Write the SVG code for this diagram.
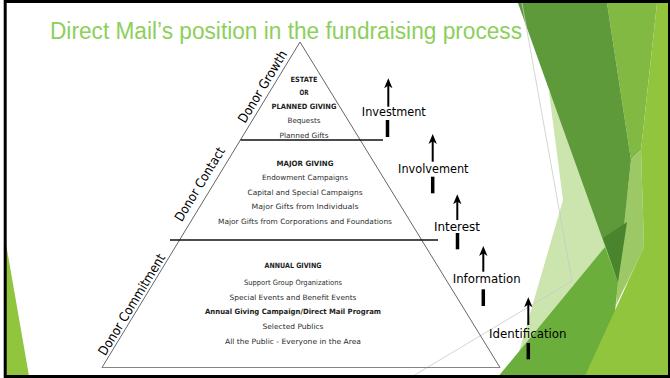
<svg xmlns="http://www.w3.org/2000/svg" width="670" height="378" viewBox="0 0 670 378">
  <defs>
    <style>
      .side { fill: none; stroke: #555; stroke-width: 0.9; }
      .divider { stroke: #111; stroke-width: 1.3; }
      .tier { font-family: "DejaVu Sans", Verdana, sans-serif; font-size: 7.3px; fill: #2e2e2e; text-anchor: middle; }
      .head { font-weight: bold; fill: #1e1e1e; }
      .stage { font-family: "DejaVu Sans", Verdana, sans-serif; font-size: 11.5px; fill: #000; text-anchor: middle; }
      .donor { font-family: "DejaVu Sans", Verdana, sans-serif; font-size: 13px; fill: #000; text-anchor: middle; }
      .shaft { stroke: #000; stroke-width: 2; marker-end: url(#ah); }
      .bar { stroke: #000; stroke-width: 3.5; }
      .thin { stroke: #c9c9c9; stroke-width: 0.8; fill: none; }
    </style>
    <marker id="ah" viewBox="0 0 10 10" refX="6" refY="5" markerWidth="10" markerHeight="10" markerUnits="userSpaceOnUse" orient="auto">
      <path d="M10,5 L0,0.8 L2.8,5 L0,9.2 Z" fill="#000"/>
    </marker>
  </defs>

  <rect x="0" y="0" width="670" height="378" fill="#fff"/>

  <!-- facet decoration, right side -->
  <g id="facets">
    <polygon points="549,92 620,160 645,260 600,320 512,376 563,200" fill="#cce4ae"/>
    <polygon points="607,3 657,3 641,150 631,160" fill="#82b943"/>
    <polygon points="631,160 641,150 644,247 616,305 618,282" fill="#9cc866"/>
    <polygon points="497,378 605,247 618,282 615,312 586,378" fill="#6cae3c"/>
    <polygon points="518,3 607,3 631,160 618,282" fill="#5e9a3a"/>
    <polygon points="603,238 627,222 618,282" fill="#4a852e"/>
    <polygon points="657,3 670,3 670,378 584,378 644,247 641,150" fill="#91c53d"/>
    <polygon points="5,238 29,376 5,376" fill="#91c53d"/>
    <line class="thin" x1="522" y1="3" x2="572" y2="281"/>
    <line class="thin" x1="572" y1="281" x2="413" y2="376"/>
  </g>

  <!-- title -->
  <text x="50" y="38.5" font-family="Liberation Sans, Arial, sans-serif" font-size="23" fill="#8ccf5b" textLength="472" lengthAdjust="spacingAndGlyphs">Direct Mail’s position in the fundraising process</text>

  <!-- pyramid outline -->
  <g id="pyramid">
    <polyline class="side" points="102,367.5 300,42 500,367.5"/>
    <line x1="102" y1="367.5" x2="500" y2="367.5" stroke="#777" stroke-width="0.9"/>
    <line class="divider" x1="240.5" y1="140" x2="383" y2="140"/>
    <line class="divider" x1="170" y1="240" x2="438" y2="240"/>
  </g>

  <g id="tier-estate">
    <text class="tier head" x="304" y="81.5" textLength="27" lengthAdjust="spacingAndGlyphs">ESTATE</text>
    <text class="tier head" x="304" y="95" textLength="9" lengthAdjust="spacingAndGlyphs">OR</text>
    <text class="tier head" x="304" y="108.5" textLength="65" lengthAdjust="spacingAndGlyphs">PLANNED GIVING</text>
    <text class="tier" x="304" y="122.5" textLength="33" lengthAdjust="spacingAndGlyphs">Bequests</text>
    <text class="tier" x="304" y="137.5" textLength="49" lengthAdjust="spacingAndGlyphs">Planned Gifts</text>
  </g>

  <g id="tier-major">
    <text class="tier head" x="305" y="166" textLength="57" lengthAdjust="spacingAndGlyphs">MAJOR GIVING</text>
    <text class="tier" x="305" y="179.5" textLength="86" lengthAdjust="spacingAndGlyphs">Endowment Campaigns</text>
    <text class="tier" x="305" y="194.5" textLength="115" lengthAdjust="spacingAndGlyphs">Capital and Special Campaigns</text>
    <text class="tier" x="305" y="209" textLength="107" lengthAdjust="spacingAndGlyphs">Major Gifts from Individuals</text>
    <text class="tier" x="305" y="223.5" textLength="174" lengthAdjust="spacingAndGlyphs">Major Gifts from Corporations and Foundations</text>
  </g>

  <g id="tier-annual">
    <text class="tier head" x="293" y="268" textLength="57" lengthAdjust="spacingAndGlyphs">ANNUAL GIVING</text>
    <text class="tier" x="293" y="284.5" textLength="98" lengthAdjust="spacingAndGlyphs">Support Group Organizations</text>
    <text class="tier" x="293" y="299.5" textLength="127" lengthAdjust="spacingAndGlyphs">Special Events and Benefit Events</text>
    <text class="tier head" x="293" y="314" textLength="176" lengthAdjust="spacingAndGlyphs">Annual Giving Campaign/Direct Mail Program</text>
    <text class="tier" x="293" y="329" textLength="61" lengthAdjust="spacingAndGlyphs">Selected Publics</text>
    <text class="tier" x="293" y="344" textLength="136" lengthAdjust="spacingAndGlyphs">All the Public - Everyone in the Area</text>
  </g>

  <!-- side labels along the left slope -->
  <g id="label-growth">
    <text class="donor" transform="translate(266.3,89) rotate(-58.7)" textLength="82" lengthAdjust="spacingAndGlyphs">Donor Growth</text>
  </g>
  <g id="label-contact">
    <text class="donor" transform="translate(203.5,186.5) rotate(-58.7)" textLength="84" lengthAdjust="spacingAndGlyphs">Donor Contact</text>
  </g>
  <g id="label-commitment">
    <text class="donor" transform="translate(135.5,307) rotate(-58.7)" textLength="116" lengthAdjust="spacingAndGlyphs">Donor Commitment</text>
  </g>

  <!-- stage arrows -->
  <g id="connectors">
    <line class="shaft" x1="388.3" y1="106.7" x2="388.3" y2="82.3"/>
    <line class="bar" x1="387.5" y1="120" x2="387.5" y2="137"/>
    <line class="shaft" x1="432.7" y1="161.7" x2="432.7" y2="138"/>
    <line class="bar" x1="432.7" y1="176.7" x2="432.7" y2="193.3"/>
    <line class="shaft" x1="457.3" y1="220" x2="457.3" y2="198.3"/>
    <line class="bar" x1="457.5" y1="233" x2="457.5" y2="249.3"/>
    <line class="shaft" x1="483.3" y1="271.7" x2="483.3" y2="250"/>
    <line class="bar" x1="483.3" y1="289.3" x2="483.3" y2="306"/>
    <line class="shaft" x1="528.3" y1="325" x2="528.3" y2="301.3"/>
    <line class="bar" x1="528.3" y1="343" x2="528.3" y2="359.3"/>
  </g>

  <g id="stage-investment">
    <text class="stage" x="393.8" y="116.3" textLength="64" lengthAdjust="spacingAndGlyphs">Investment</text>
  </g>
  <g id="stage-involvement">
    <text class="stage" x="433.3" y="173.3" textLength="70.5" lengthAdjust="spacingAndGlyphs">Involvement</text>
  </g>
  <g id="stage-interest">
    <text class="stage" x="457" y="231.3" textLength="46" lengthAdjust="spacingAndGlyphs">Interest</text>
  </g>
  <g id="stage-information">
    <text class="stage" x="486.7" y="283" textLength="68" lengthAdjust="spacingAndGlyphs">Information</text>
  </g>
  <g id="stage-identification">
    <text class="stage" x="527.8" y="338" textLength="77.5" lengthAdjust="spacingAndGlyphs">Identification</text>
  </g>

  <!-- slide frame -->
  <rect x="5.2" y="1.5" width="664.3" height="375" fill="none" stroke="#000" stroke-width="3"/>
</svg>
